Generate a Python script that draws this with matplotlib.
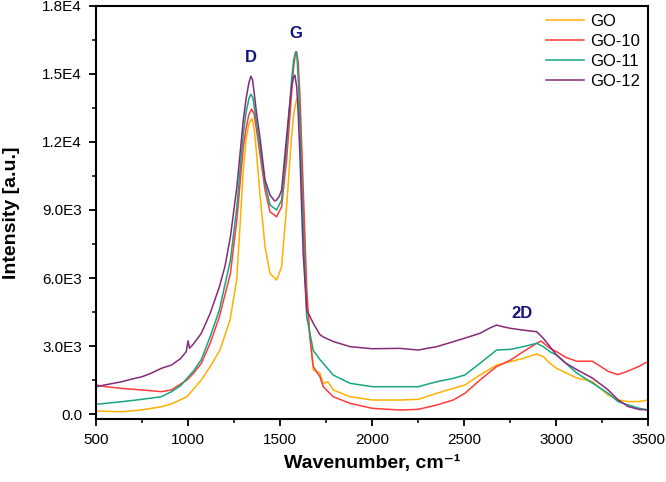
import matplotlib
matplotlib.use("Agg")
import matplotlib.pyplot as plt
from matplotlib.ticker import MultipleLocator, FixedLocator

plt.rcParams['font.family'] = ['Liberation Sans', 'DejaVu Sans']

# ---- data ----
go_x = [500, 637, 746, 855, 909, 994, 1072, 1120, 1173, 1228, 1264, 1282, 1300, 1315, 1330, 1348,
        1360, 1372, 1390, 1418, 1445, 1481, 1508, 1535, 1562, 1575, 1588, 1595, 1602, 1610, 1625,
        1644, 1680, 1716, 1734, 1760, 1788, 1880, 2000, 2150, 2250, 2350, 2440, 2503, 2585, 2675,
        2751, 2820, 2893, 2929, 2965, 3001, 3110, 3194, 3280, 3333, 3390, 3450, 3500]
go_y = [132, 100, 176, 322, 441, 763, 1500, 2090, 2820, 4150, 5910, 8300, 10760, 12100, 12800, 13040,
        12500, 11500, 9730, 7380, 6200, 5910, 6500, 9140, 12230, 13300, 13850, 13920, 13700, 12800, 9290,
        4880, 1940, 1800, 1354, 1420, 1060, 763, 617, 617, 648, 913, 1133, 1279, 1720, 2160,
        2310, 2457, 2645, 2530, 2236, 2015, 1590, 1440, 846, 624, 550, 550, 624]

go10_x = [500, 560, 640, 750, 855, 909, 994, 1030, 1072, 1120, 1170, 1230, 1265, 1300, 1315, 1330,
          1345, 1358, 1372, 1390, 1418, 1445, 1481, 1508, 1535, 1562, 1572, 1582, 1590, 1598, 1607,
          1615, 1625, 1644, 1660, 1680, 1716, 1734, 1788, 1880, 2000, 2150, 2250, 2350, 2440, 2503,
          2585, 2675, 2751, 2820, 2893, 2917, 2965, 3001, 3050, 3110, 3194, 3240, 3280, 3333, 3387,
          3450, 3500]
go10_y = [1280, 1200, 1130, 1060, 985, 1060, 1500, 1800, 2236, 3120, 4290, 6200, 8560, 11790, 12600, 13200,
          13450, 13250, 12520, 11500, 9880, 8920, 8700, 9140, 11200, 14140, 15200, 15850, 15980, 15500, 14140,
          12300, 10020, 5610, 3500, 2090, 1645, 1205, 763, 470, 251, 176, 207, 397, 617, 913,
          1500, 2090, 2380, 2750, 3120, 3220, 2897, 2750, 2500, 2330, 2330, 2100, 1886, 1737, 1886,
          2108, 2330]

go11_x = [500, 640, 750, 855, 910, 960, 994, 1030, 1072, 1120, 1170, 1230, 1265, 1300, 1315, 1330,
          1341, 1352, 1362, 1372, 1390, 1418, 1445, 1481, 1508, 1535, 1562, 1573, 1584, 1592, 1600,
          1607, 1625, 1644, 1680, 1716, 1734, 1788, 1880, 2000, 2150, 2250, 2350, 2440, 2503, 2585,
          2675, 2751, 2820, 2893, 2929, 2965, 3001, 3110, 3195, 3280, 3335, 3390, 3450, 3500]
go11_y = [428, 543, 648, 763, 985, 1250, 1574, 1900, 2400, 3410, 4590, 6790, 9140, 12380, 13300, 13900,
          14110, 13950, 13400, 12820, 11790, 10170, 9220, 9000, 9440, 11790, 14730, 15600, 15980, 15700, 14500,
          12970, 8560, 4300, 2800, 2400, 2236, 1720, 1354, 1205, 1205, 1205, 1425, 1574, 1720, 2236,
          2822, 2853, 2970, 3120, 2970, 2750, 2600, 1812, 1366, 920, 550, 400, 250, 180]

go12_x = [500, 560, 640, 700, 750, 800, 855, 910, 960, 990, 1000, 1008, 1030, 1072, 1120, 1170,
          1200, 1230, 1265, 1300, 1315, 1330, 1341, 1350, 1360, 1372, 1390, 1418, 1445, 1470, 1481,
          1495, 1508, 1535, 1550, 1562, 1572, 1580, 1590, 1598, 1607, 1625, 1644, 1680, 1716, 1734,
          1788, 1880, 2000, 2150, 2250, 2300, 2350, 2440, 2500, 2585, 2640, 2675, 2710, 2751, 2820,
          2893, 2929, 2965, 3001, 3050, 3110, 3195, 3280, 3335, 3390, 3450, 3500]
go12_y = [1205, 1300, 1425, 1550, 1645, 1800, 2015, 2160, 2450, 2750, 3230, 2900, 3100, 3560, 4440, 5610,
          6500, 7820, 10020, 12970, 13900, 14600, 14900, 14750, 14100, 13260, 12230, 10320, 9660, 9400, 9440,
          9600, 9880, 12230, 13500, 14430, 14850, 14950, 14430, 13300, 11500, 7100, 4600, 4000, 3500, 3400,
          3200, 2970, 2880, 2897, 2822, 2900, 2970, 3190, 3340, 3560, 3800, 3925, 3850, 3780, 3700,
          3630, 3340, 2970, 2600, 2250, 1960, 1590, 1070, 624, 330, 200, 180]

series_names = ["GO", "GO-10", "GO-11", "GO-12"]
colors = ["#FFB000", "#FF3B3B", "#17A683", "#862A7A"]

peak_labels = ["D", "G", "2D"]
peak_label_x = [1341, 1586, 2814]
peak_label_y = [15740, 16800, 4440]

y_ticks = [0, 3000, 6000, 9000, 12000, 15000, 18000]
y_tick_labels = ["0.0", "3.0E3", "6.0E3", "9.0E3", "1.2E4", "1.5E4", "1.8E4"]
x_ticks = [500, 1000, 1500, 2000, 2500, 3000, 3500]

# ---- plot ----
fig = plt.figure(figsize=(6.66, 4.82), dpi=100)
ax = fig.add_axes([0.1441, 0.1307, 0.8296, 0.8569])

xs = [go_x, go10_x, go11_x, go12_x]
ys = [go_y, go10_y, go11_y, go12_y]
for x, y, name, c in zip(xs, ys, series_names, colors):
    ax.plot(x, y, color=c, lw=1.1, label=name)

for t, lx, ly in zip(peak_labels, peak_label_x, peak_label_y):
    ax.text(lx, ly, t, color="#13137F", fontsize=12, fontweight="bold",
            ha="center", va="center")

ax.set_xlim(500, 3500)
ax.set_ylim(-220, 18000)
ax.xaxis.set_major_locator(FixedLocator(x_ticks))
ax.xaxis.set_minor_locator(MultipleLocator(250))
ax.set_yticks(y_ticks)
ax.set_yticklabels(y_tick_labels)
ax.yaxis.set_minor_locator(MultipleLocator(1500))
ax.tick_params(which="major", direction="out", length=5, width=1.3, labelsize=11,
               pad=5, colors="black")
ax.tick_params(which="minor", direction="out", length=3, width=1.1)
for s in ax.spines.values():
    s.set_linewidth(1.5)

ax.set_xlabel("Wavenumber, cm\u207b\u00b9", fontsize=14, fontweight="bold", labelpad=6)
ax.set_ylabel("Intensity [a.u.]", fontsize=14, fontweight="bold", labelpad=16)

leg = ax.legend(loc="upper right", bbox_to_anchor=(1.0, 1.0), frameon=False, fontsize=12,
                handlelength=2.3, handletextpad=0.35, labelspacing=0.3,
                borderaxespad=0.0, borderpad=0.5)

fig.savefig("out.png", dpi=100)
